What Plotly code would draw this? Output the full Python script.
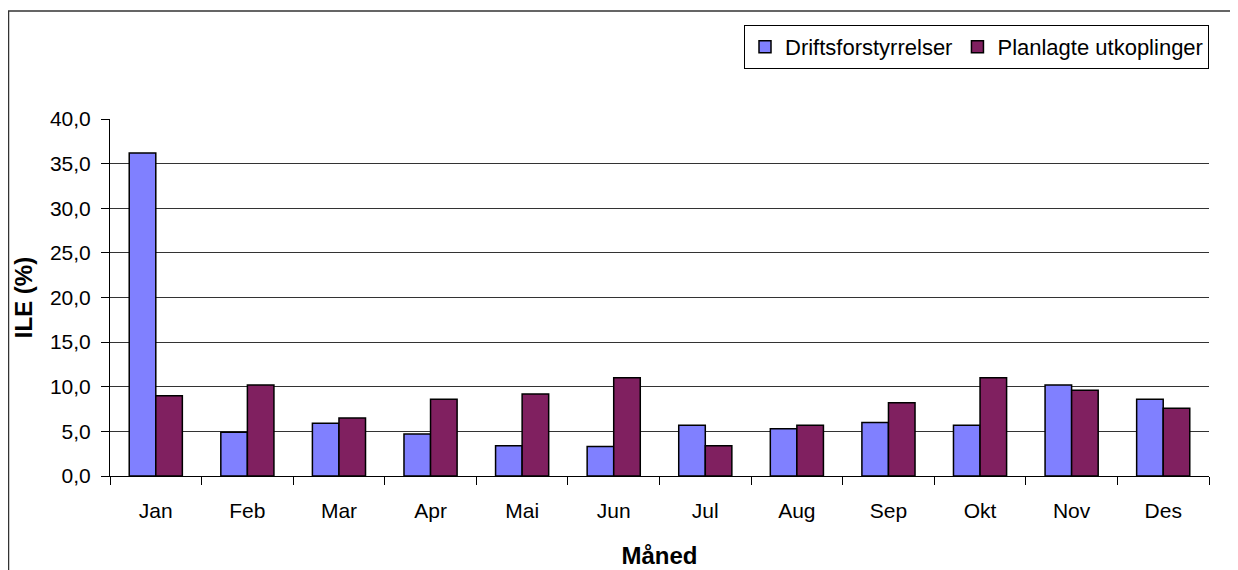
import plotly.graph_objects as go

months = ["Jan", "Feb", "Mar", "Apr", "Mai", "Jun", "Jul", "Aug", "Sep", "Okt", "Nov", "Des"]
drift = [36.2, 4.9, 5.9, 4.7, 3.4, 3.3, 5.7, 5.3, 6.0, 5.7, 10.2, 8.6]
planlagt = [9.0, 10.2, 6.5, 8.6, 9.2, 11.0, 3.4, 5.7, 8.2, 11.0, 9.6, 7.6]

# page has an 8px body margin, so the figure is placed at (8, 8)
OFF = 8
W, H = 1238 - OFF, 570 - OFF
L, R, T, B = 110 - OFF, 1209 - OFF, 119 - OFF, 476 - OFF

def px(x):
    return (x - OFF - L) / (R - L)

def py(y):
    return (B - (y - OFF)) / (B - T)

fig = go.Figure()
fig.add_trace(go.Bar(x=months, y=drift, name="Driftsforstyrrelser",
                     marker=dict(color="#8080FF", line=dict(color="black", width=1.5))))
fig.add_trace(go.Bar(x=months, y=planlagt, name="Planlagte utkoplinger",
                     marker=dict(color="#802060", line=dict(color="black", width=1.5))))

font = "Liberation Sans, Arial, sans-serif"

fig.update_layout(
    width=W, height=H,
    margin=dict(l=L, r=W - R, t=T, b=H - B, pad=0, autoexpand=False),
    paper_bgcolor="white", plot_bgcolor="white",
    barmode="group", bargap=0.42, bargroupgap=0,
    separators=", ",
    font=dict(family=font, size=20, color="black"),
    showlegend=True,
    legend=dict(orientation="h", x=1, xanchor="right", y=py(25), yanchor="top",
                bordercolor="black", borderwidth=1, bgcolor="white",
                font=dict(size=22, family=font), itemwidth=30,
                traceorder="normal"),
    xaxis=dict(
        automargin=False,
        showline=True, linecolor="black", linewidth=1,
        ticks="outside", ticklen=8, tickcolor="black", tickson="boundaries",
        tickfont=dict(size=21, family=font), ticklabelstandoff=16,
        showgrid=False,
        title=dict(text="<b>Måned</b>", font=dict(size=24, family=font), standoff=25),
    ),
    yaxis=dict(
        automargin=False,
        range=[0, 40], dtick=5, tickformat=".1f",
        showline=True, linecolor="black", linewidth=1,
        ticks="outside", ticklen=8, tickcolor="black",
        tickfont=dict(size=21, family=font), ticklabelstandoff=6,
        showgrid=True, gridcolor="#333333", gridwidth=1,
        zeroline=False,
        title=dict(text="<b>ILE (%)</b>", font=dict(size=24, family=font), standoff=10),
    ),
    shapes=[dict(type="rect", xref="paper", yref="paper",
                 x0=px(8.5), x1=px(1260), y0=py(600), y1=py(11),
                 line=dict(color="#333333", width=1.5), layer="below")],
)

fig.write_html("out.html")
